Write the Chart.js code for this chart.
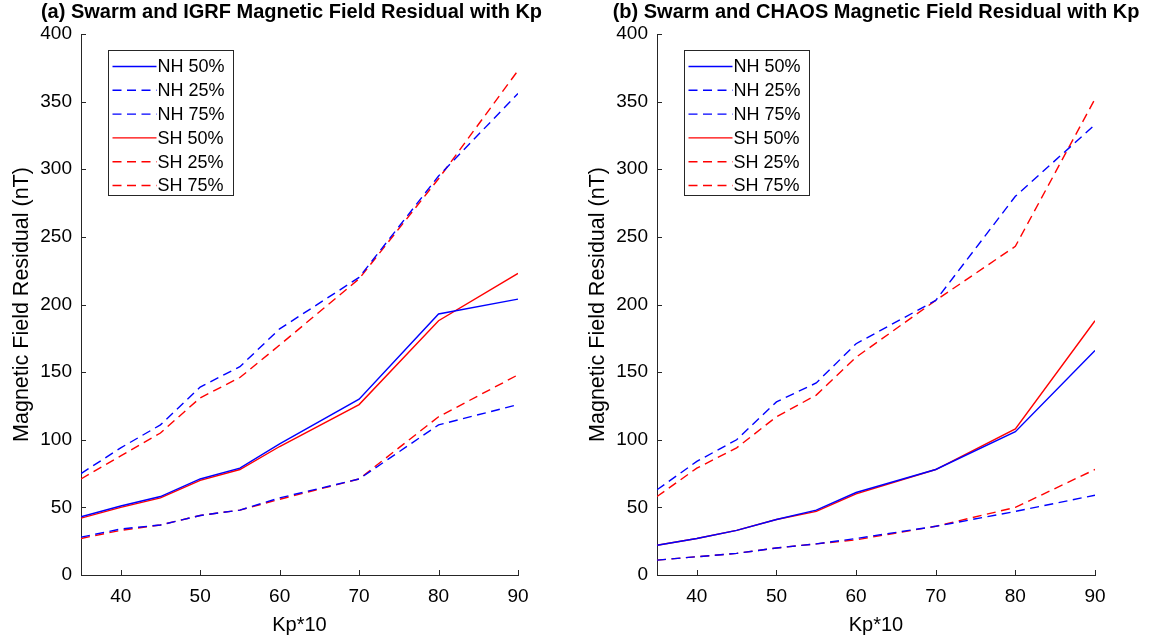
<!DOCTYPE html>
<html>
<head>
<meta charset="utf-8">
<script src="https://cdn.jsdelivr.net/npm/chart.js@4/dist/chart.umd.min.js"></script>
<style>
  body { margin: 0; background: #fff; }
  #left { position: absolute; left: 0; top: 0; }
  #right { position: absolute; left: 576px; top: 0; }
</style>
</head>
<body>
<canvas id="left" width="576" height="637"></canvas>
<canvas id="right" width="577" height="637"></canvas>
<script>
// Kp*10 values
const kp = [35, 40, 45, 50, 55, 60, 70, 80, 90];
const xTicks = [40, 50, 60, 70, 80, 90];
const yTicks = [0, 50, 100, 150, 200, 250, 300, 350, 400];
const seriesLabels = ['NH 50%', 'NH 25%', 'NH 75%', 'SH 50%', 'SH 25%', 'SH 75%'];

// (a) IGRF residuals
const igrfNH50 = [43, 51, 58, 71, 79, 97, 130, 193, 204];
const igrfNH25 = [28, 34, 37, 44, 48, 57, 71, 111, 126];
const igrfNH75 = [75, 94, 111, 139, 154, 182, 220, 295, 356];
const igrfSH50 = [42, 50, 57, 70, 78, 95, 126, 188, 223];
const igrfSH25 = [27, 33, 37, 44, 48, 56, 71, 117, 148];
const igrfSH75 = [71, 88, 105, 131, 146, 170, 219, 293, 373];

// (b) CHAOS residuals
const chaosNH50 = [22, 27, 33, 41, 48, 61, 78, 106, 166];
const chaosNH25 = [11, 13.5, 16, 20, 23, 27, 36, 47, 59];
const chaosNH75 = [63, 84, 100, 128, 142, 171, 203, 280, 333];
const chaosSH50 = [22, 27, 33, 41, 47, 60, 78, 108, 188];
const chaosSH25 = [11, 13.5, 16, 20, 23, 26, 36, 50, 78];
const chaosSH75 = [58, 79, 94, 117, 133, 161, 203, 243, 352];

const BLUE = 'rgb(0,0,255)';
const RED = 'rgb(255,0,0)';
const AXIS = '#262626';
const FONT = 'Liberation Sans, Arial, sans-serif';
const DASH = [9, 5.5];

function makeSets(nh50, nh25, nh75, sh50, sh25, sh75) {
  const vals = [nh50, nh25, nh75, sh50, sh25, sh75];
  return vals.map((v, i) => ({
    label: seriesLabels[i],
    data: kp.map((k, j) => ({ x: k, y: v[j] })),
    borderColor: i < 3 ? BLUE : RED,
    borderDash: (i % 3 === 0) ? [] : DASH,
    borderWidth: 1.4,
    pointRadius: 0,
    tension: 0,
    fill: false
  }));
}

// inward tick marks, matlab style
const tickMarks = {
  id: 'tickMarks',
  afterDraw(chart) {
    const ctx = chart.ctx;
    const xs = chart.scales.x, ys = chart.scales.y;
    const area = chart.chartArea;
    ctx.save();
    ctx.strokeStyle = AXIS;
    ctx.lineWidth = 1;
    ctx.beginPath();
    xTicks.forEach(v => {
      const px = Math.round(xs.getPixelForValue(v)) + 0.5;
      ctx.moveTo(px, area.bottom);
      ctx.lineTo(px, area.bottom - 5);
    });
    yTicks.forEach(v => {
      const py = Math.round(ys.getPixelForValue(v)) + 0.5;
      ctx.moveTo(area.left, py);
      ctx.lineTo(area.left + 5, py);
    });
    ctx.stroke();
    ctx.restore();
  }
};

// title centred over the axes (matlab style)
const axesTitle = {
  id: 'axesTitle',
  afterDraw(chart, args, opts) {
    const ctx = chart.ctx;
    const area = chart.chartArea;
    ctx.save();
    ctx.font = 'bold 20px ' + FONT;
    ctx.fillStyle = '#000';
    ctx.textAlign = 'center';
    ctx.textBaseline = 'middle';
    ctx.fillText(opts.text, (area.left + area.right) / 2 + (opts.shift || 0), 12);
    ctx.restore();
  }
};

// boxed legend inside the plot area
const boxLegend = {
  id: 'boxLegend',
  afterDraw(chart) {
    const ctx = chart.ctx;
    const area = chart.chartArea;
    const bx = Math.round(area.left + 27) + 0.5;
    const by = Math.round(area.top + 16) + 0.5;
    const bw = 125, bh = 145;
    ctx.save();
    ctx.fillStyle = '#fff';
    ctx.fillRect(bx, by, bw, bh);
    ctx.strokeStyle = AXIS;
    ctx.lineWidth = 1;
    ctx.strokeRect(bx, by, bw, bh);
    ctx.font = '18px ' + FONT;
    ctx.textBaseline = 'middle';
    chart.data.datasets.forEach((ds, i) => {
      const y = by + 16 + i * 23.8;
      ctx.strokeStyle = ds.borderColor;
      ctx.lineWidth = 1.4;
      ctx.setLineDash(ds.borderDash);
      ctx.beginPath();
      ctx.moveTo(bx + 4, y);
      ctx.lineTo(bx + 48, y);
      ctx.stroke();
      ctx.setLineDash([]);
      ctx.fillStyle = '#000';
      ctx.fillText(ds.label, bx + 49, y + 1);
    });
    ctx.restore();
  }
};

function makeChart(id, title, shift, datasets) {
  return new Chart(document.getElementById(id), {
    type: 'line',
    data: { datasets: datasets },
    options: {
      responsive: false,
      animation: false,
      devicePixelRatio: 1,
      layout: { padding: { left: 0, right: 58, top: 34, bottom: 0 } },
      plugins: {
        legend: { display: false },
        tooltip: { enabled: false },
        title: { display: false },
        axesTitle: { text: title, shift: shift }
      },
      scales: {
        x: {
          type: 'linear',
          min: 35,
          max: 90,
          afterBuildTicks: s => { s.ticks = xTicks.map(v => ({ value: v })); },
          afterFit: s => { s.height = 62; },
          grid: { display: false, drawTicks: false },
          border: { display: true, color: AXIS, width: 1 },
          ticks: { color: '#000', padding: 10, maxRotation: 0, font: { family: FONT, size: 19 } },
          title: { display: true, text: 'Kp*10', color: '#000', font: { family: FONT, size: 20 }, padding: { top: 0, bottom: 0 } }
        },
        y: {
          min: 0,
          max: 400,
          afterBuildTicks: s => { s.ticks = yTicks.map(v => ({ value: v })); },
          afterFit: s => { s.width = 81; },
          grid: { display: false, drawTicks: false },
          border: { display: true, color: AXIS, width: 1 },
          ticks: { color: '#000', padding: 9, font: { family: FONT, size: 19 } },
          title: { display: true, text: 'Magnetic Field Residual (nT)', color: '#000', font: { family: FONT, size: 21.5 }, padding: { top: 9, bottom: 0 } }
        }
      }
    },
    plugins: [tickMarks, boxLegend, axesTitle]
  });
}

makeChart('left', '(a) Swarm and IGRF Magnetic Field Residual with Kp', -8,
  makeSets(igrfNH50, igrfNH25, igrfNH75, igrfSH50, igrfSH25, igrfSH75));
makeChart('right', '(b) Swarm and CHAOS Magnetic Field Residual with Kp', 0,
  makeSets(chaosNH50, chaosNH25, chaosNH75, chaosSH50, chaosSH25, chaosSH75));
</script>
</body>
</html>
